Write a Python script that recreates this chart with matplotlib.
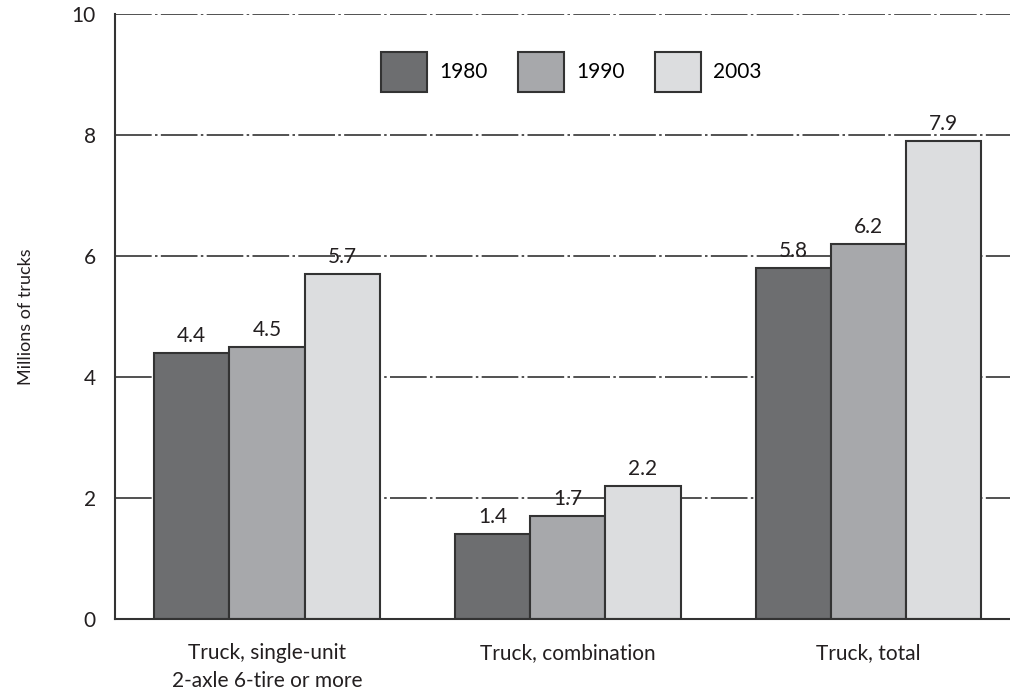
import matplotlib
matplotlib.use("Agg")
import matplotlib.pyplot as plt
import numpy as np

plt.rcParams['font.family'] = ['Lato', 'DejaVu Sans']

categories = ["Truck, single-unit\n2-axle 6-tire or more", "Truck, combination", "Truck, total"]
years = ["1980", "1990", "2003"]
v1980 = [4.4, 1.4, 5.8]
v1990 = [4.5, 1.7, 6.2]
v2003 = [5.7, 2.2, 7.9]
colors = ["#6d6e70", "#a7a8ab", "#dcdddf"]

fig = plt.figure(figsize=(10.1, 6.98), dpi=100)
ax = fig.add_axes([0.114, 0.113, 0.886, 0.867])

x = np.arange(len(categories))
w = 0.25
series = [v1980, v1990, v2003]
for i, vals in enumerate(series):
    pos = x + (i - 1) * w
    ax.bar(pos, vals, w, color=colors[i], edgecolor="#333333", linewidth=1.5,
           label=years[i], zorder=2)
    for px, v in zip(pos, vals):
        ax.text(px, v + 0.12, f"{v:.1f}", ha="center", va="bottom",
                fontsize=15, color="#231f20", zorder=3)

ax.set_xlim(-0.505, 2.47)
ax.set_ylim(0, 10)
ax.set_yticks([0, 2, 4, 6, 8, 10])
ax.set_xticks(x)
ax.set_xticklabels(categories, fontsize=15, color="#231f20", linespacing=1.5)
ax.tick_params(axis="both", length=0, labelsize=15, colors="#231f20")
ax.tick_params(axis="x", pad=17)
ax.tick_params(axis="y", pad=14)
ax.yaxis.grid(True, color="#333333", linewidth=1.2, linestyle=(0, (22, 2, 1.5, 2)), zorder=0)
ax.set_axisbelow(True)

for s in ["top", "right"]:
    ax.spines[s].set_visible(False)
ax.spines["left"].set_color("#333333")
ax.spines["bottom"].set_color("#333333")
ax.spines["left"].set_linewidth(1.5)
ax.spines["bottom"].set_linewidth(1.5)

ax.set_ylabel("Millions of trucks", fontsize=13, color="#231f20", labelpad=27)

ax.legend(ncol=3, frameon=False, loc="center", bbox_to_anchor=(0.51, 0.904),
          fontsize=15, handlelength=2.2, handleheight=2.6, columnspacing=1.45,
          handletextpad=0.6)

fig.savefig("out.png", dpi=100)
